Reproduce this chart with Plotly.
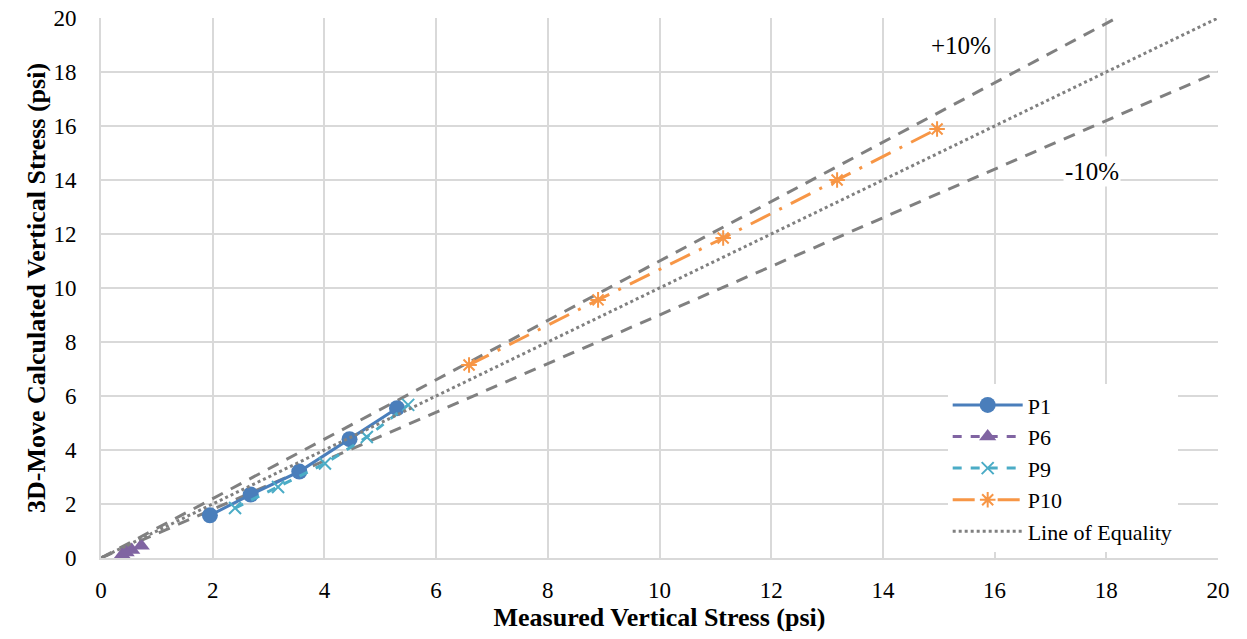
import plotly.graph_objects as go

# Data
p1_x = [1.95, 2.68, 3.55, 4.45, 5.30]
p1_y = [1.58, 2.35, 3.20, 4.40, 5.55]
p6_x = [0.38, 0.45, 0.55, 0.72]
p6_y = [0.12, 0.20, 0.30, 0.45]
p9_x = [2.40, 3.17, 4.01, 4.76, 5.50]
p9_y = [1.85, 2.63, 3.50, 4.48, 5.67]
p10_x = [6.59, 8.90, 11.14, 13.18, 14.97]
p10_y = [7.15, 9.56, 11.85, 14.00, 15.89]
eq_x = [0, 20]
eq_y = [0, 20]
plus10_x = [0, 20 / 1.1]
plus10_y = [0, 20]
minus10_x = [0, 20]
minus10_y = [0, 18]
ticks = list(range(0, 21, 2))

FONT = "Times New Roman, Liberation Serif, Times, serif"
GRAY = "#808080"

fig = go.Figure()
fig.add_trace(go.Scatter(x=plus10_x, y=plus10_y, mode="lines", showlegend=False,
                         line=dict(color=GRAY, width=3, dash="12px,9px"), hoverinfo="skip"))
fig.add_trace(go.Scatter(x=minus10_x, y=minus10_y, mode="lines", showlegend=False,
                         line=dict(color=GRAY, width=3, dash="12px,9px"), hoverinfo="skip"))
fig.add_trace(go.Scatter(x=p1_x, y=p1_y, mode="lines+markers", name="P1",
                         line=dict(color="#4A7EBB", width=3),
                         marker=dict(symbol="circle", size=16, color="#4A7EBB")))
fig.add_trace(go.Scatter(x=p6_x, y=p6_y, mode="lines+markers", name="P6",
                         line=dict(color="#8064A2", width=3, dash="dash"),
                         marker=dict(symbol="triangle-up", size=15, color="#8064A2")))
fig.add_trace(go.Scatter(x=p9_x, y=p9_y, mode="lines+markers", name="P9",
                         line=dict(color="#4BACC6", width=3, dash="dash"),
                         marker=dict(symbol="x-thin-open", size=12, color="#4BACC6",
                                     line=dict(width=2, color="#4BACC6"))))
fig.add_trace(go.Scatter(x=p10_x, y=p10_y, mode="lines+markers", name="P10",
                         line=dict(color="#F79646", width=3, dash="22px,10px,3px,10px"),
                         marker=dict(symbol="asterisk-open", size=13, color="#F79646",
                                     line=dict(width=2, color="#F79646"))))
fig.add_trace(go.Scatter(x=eq_x, y=eq_y, mode="lines", name="Line of Equality",
                         line=dict(color=GRAY, width=3, dash="dot")))

fig.add_annotation(x=15.4, y=19.0, text="+10%", showarrow=False,
                   font=dict(family=FONT, size=25, color="black"), bgcolor="white")
fig.add_annotation(x=17.75, y=14.3, text="-10%", showarrow=False,
                   font=dict(family=FONT, size=25, color="black"), bgcolor="white")

axis_common = dict(range=[0, 20], tickvals=ticks, showgrid=True, gridcolor="#D9D9D9", gridwidth=2,
                   showline=True, linecolor="#D9D9D9", linewidth=2, zeroline=False,
                   tickfont=dict(family=FONT, size=23, color="black"), ticks="",
                   automargin=False, ticklabeloverflow="allow")
fig.update_xaxes(**axis_common, ticklabelstandoff=10,
                 title=dict(text="<b>Measured Vertical Stress (psi)</b>",
                            font=dict(family=FONT, size=26, color="black"), standoff=0))
fig.update_yaxes(**axis_common, ticklabelstandoff=18,
                 title=dict(text="<b>3D-Move Calculated Vertical Stress (psi)</b>",
                            font=dict(family=FONT, size=26, color="black"), standoff=0))

fig.update_layout(
    width=1247, height=639,
    margin=dict(l=101, r=29, t=18, b=81),
    plot_bgcolor="white", paper_bgcolor="white",
    font=dict(family=FONT, color="black"),
    legend=dict(x=0.758, y=0.322, xanchor="left", yanchor="top",
                bgcolor="white", font=dict(family=FONT, size=22, color="black"),
                tracegroupgap=0, itemwidth=70),
)

# remove the default page margin so the figure fills the window exactly
fig.write_html("out.html", config={"displayModeBar": False},
               post_script="document.body.style.margin='0';")
